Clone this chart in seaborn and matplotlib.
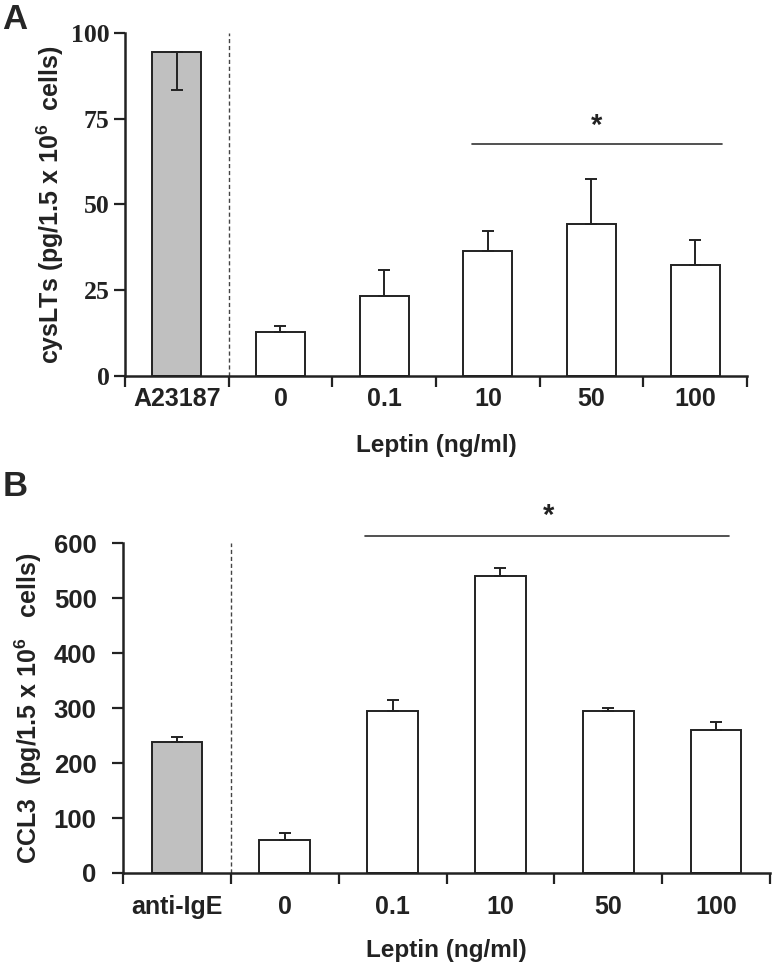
import numpy as np
import pandas as pd
import matplotlib
matplotlib.use("Agg")
import matplotlib.pyplot as plt
import seaborn as sns

# panel A: cysLTs
a_labels = ["A23187", "0", "0.1", "10", "50", "100"]
a_means = [94.5, 12.8, 23.4, 36.4, 44.3, 32.4]
a_err_lo = [11.2, 0, 0, 0, 0, 0]
a_err_hi = [0, 1.8, 7.5, 6.0, 13.1, 7.3]

# panel B: CCL3
b_labels = ["anti-IgE", "0", "0.1", "10", "50", "100"]
b_means = [239, 60, 294, 540, 294, 260]
b_err_lo = [0, 0, 0, 0, 0, 0]
b_err_hi = [9, 13, 20, 15, 6, 15]

fills = ["#c0c0c0", "white", "white", "white", "white", "white"]

sns.set_style("ticks")
plt.rcParams["font.family"] = ["Liberation Sans", "DejaVu Sans"]
plt.rcParams["mathtext.fontset"] = "custom"
plt.rcParams["mathtext.bf"] = "Liberation Sans:bold"
plt.rcParams["mathtext.rm"] = "Liberation Sans:bold"

fig = plt.figure(figsize=(7.74, 9.64), dpi=100)
ax_a = fig.add_axes([0.1615, 0.61, 0.8036, 0.3558])
ax_b = fig.add_axes([0.1589, 0.0944, 0.836, 0.3423])


def draw_panel(ax, labels, means, err_lo, err_hi, ymax, ystep):
    df = pd.DataFrame({"cond": labels, "val": means})
    sns.barplot(data=df, x="cond", y="val", hue="cond", palette=fills, order=labels,
                legend=False, width=0.47, edgecolor="#222222", linewidth=1.4, ax=ax)
    xs = np.arange(len(labels))
    ax.errorbar(xs, means, yerr=[err_lo, err_hi], fmt="none", ecolor="#222222",
                elinewidth=1.4, capsize=4.5, capthick=1.4, zorder=3)
    ax.axvline(0.5, ymin=0, ymax=1, color="#444444", linestyle=(0, (3, 2)), linewidth=1)
    ax.set_xlim(-0.5, len(labels) - 0.5)
    ax.set_ylim(0, ymax)
    ax.set_yticks(np.arange(0, ymax + 1, ystep))
    ax.set_xticks(xs)
    ax.set_xticks(np.arange(-0.5, len(labels), 1), minor=True)
    ax.tick_params(axis="x", which="major", length=0)
    ax.tick_params(axis="x", which="minor", length=8, width=1.6, direction="out", color="#222222")
    ax.tick_params(axis="y", length=8, width=1.6, direction="out", color="#222222")
    for s in ["top", "right"]:
        ax.spines[s].set_visible(False)
    for s in ["left", "bottom"]:
        ax.spines[s].set_linewidth(1.8)
        ax.spines[s].set_color("#222222")
    ax.set_xlabel("Leptin (ng/ml)", fontsize=17.5, fontweight="bold", color="#222222")


draw_panel(ax_a, a_labels, a_means, a_err_lo, a_err_hi, 100, 25)
draw_panel(ax_b, b_labels, b_means, b_err_lo, b_err_hi, 600, 100)

# panel A text styling
ax_a.set_yticks(np.arange(0, 101, 25))
ax_a.set_yticklabels([str(v) for v in range(0, 101, 25)], family="Liberation Serif",
                     fontsize=18.5, fontweight="bold", color="#222222")
ax_a.tick_params(axis="y", pad=3)
ax_a.tick_params(axis="x", which="major", pad=8, labelsize=18, colors="#222222")
for t in ax_a.get_xticklabels():
    t.set_fontweight("bold")
ax_a.set_ylabel(r"cysLTs (pg/1.5 x 10$^{\mathbf{6}}$  cells)", fontsize=18, fontweight="bold",
                color="#222222", labelpad=4)
ax_a.xaxis.set_label_coords(0.5, -0.17)

# significance bar A
ax_a.plot([2.85, 5.26], [67.5, 67.5], color="#333333", linewidth=1.2)
ax_a.text(4.05, 73, "*", ha="center", va="center", fontsize=21, fontweight="bold", color="#222222")

# panel B text styling
ax_b.tick_params(axis="y", pad=11, labelsize=18.5, colors="#222222")
for t in ax_b.get_yticklabels():
    t.set_fontweight("bold")
ax_b.tick_params(axis="x", which="major", pad=16, labelsize=18, colors="#222222")
for t in ax_b.get_xticklabels():
    t.set_fontweight("bold")
ax_b.set_ylabel(r"CCL3  (pg/1.5 x 10$^{\mathbf{6}}$   cells)", fontsize=18, fontweight="bold",
                color="#222222", labelpad=7)
ax_b.xaxis.set_label_coords(0.5, -0.2)

# significance bar B
ax_b.plot([1.745, 5.12], [612.7, 612.7], color="#333333", linewidth=1.2, clip_on=False)
ax_b.text(3.45, 650, "*", ha="center", va="center", fontsize=21, fontweight="bold",
          color="#222222", clip_on=False)

fig.text(0.003, 0.997, "A", fontsize=25, fontweight="bold", va="top", ha="left")
fig.text(0.003, 0.512, "B", fontsize=25, fontweight="bold", va="top", ha="left")

fig.savefig("out.png", dpi=100, facecolor="white")
